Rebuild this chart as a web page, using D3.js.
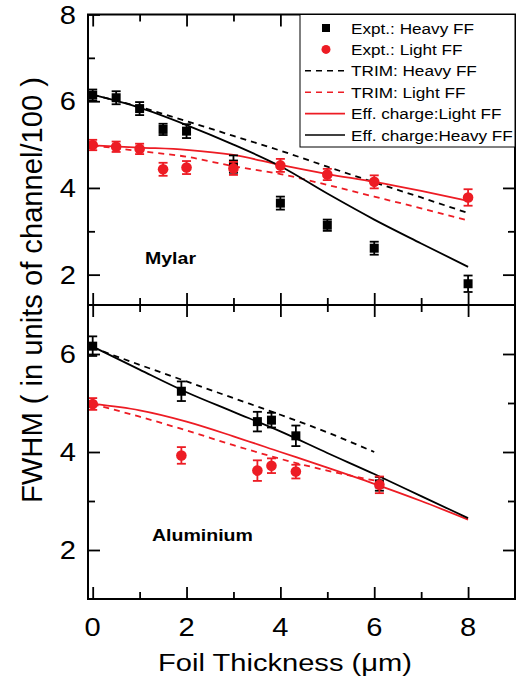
<!DOCTYPE html>
<html>
<head>
<meta charset="utf-8">
<script src="https://cdn.jsdelivr.net/npm/d3@7"></script>
<style>
  body { margin: 0; background: #fff; }
  svg { display: block; font-family: "Liberation Sans", Arial, sans-serif; }
</style>
</head>
<body>
<svg id="chart" width="521" height="681"></svg>
<script>
// ---------------- DATA ----------------
// Mylar panel (top)
const thickTop = [0, 0.5, 1, 1.5, 2, 3, 4, 5, 6, 8];
const heavyTop = [6.14, 6.08, 5.83, 5.35, 5.31, 4.55, 3.65, 3.14, 2.61, 1.79];
const heavyTopErr = [0.13, 0.15, 0.15, 0.13, 0.16, 0.2, 0.15, 0.13, 0.15, 0.19];
const lightTop = [4.99, 4.95, 4.9, 4.43, 4.47, 4.45, 4.52, 4.31, 4.14, 3.78];
const lightTopErr = [0.12, 0.12, 0.12, 0.15, 0.15, 0.15, 0.15, 0.13, 0.15, 0.19];

const curveXTop = [0, 1, 2, 3, 4, 5, 6, 7, 8];
const trimHeavyTop = [6.15, 5.87, 5.54, 5.2, 4.86, 4.49, 4.13, 3.78, 3.42];
const trimLightTop = [4.98, 4.85, 4.72, 4.5, 4.32, 4.07, 3.8, 3.53, 3.25];
const effLightTop = [4.98, 4.93, 4.88, 4.76, 4.53, 4.32, 4.14, 3.93, 3.7];
const effHeavyTop = [6.15, 5.85, 5.45, 5.0, 4.5, 3.87, 3.27, 2.72, 2.18];

// Aluminium panel (bottom)
const thickBot = [0, 1.89, 3.51, 3.81, 4.33, 6.11];
const heavyBot = [6.16, 5.24, 4.62, 4.65, 4.33, 3.35];
const heavyBotErr = [0.2, 0.2, 0.2, 0.15, 0.21, 0.14];
const lightBot = [4.98, 3.93, 3.62, 3.72, 3.6, 3.33];
const lightBotErr = [0.12, 0.17, 0.21, 0.15, 0.14, 0.17];

const curveXBotTrim = [0, 1, 2, 3, 4, 5, 6];
const trimHeavyBot = [6.13, 5.78, 5.44, 5.1, 4.76, 4.4, 4.0];
const trimLightBot = [4.98, 4.72, 4.44, 4.14, 3.86, 3.62, 3.42];
const curveXBot = [0, 1, 2, 3, 4, 5, 6, 7, 8];
const effHeavyBot = [6.15, 5.68, 5.22, 4.82, 4.42, 3.98, 3.55, 3.1, 2.65];
const effLightBot = [4.98, 4.85, 4.62, 4.32, 4.0, 3.68, 3.35, 3.0, 2.62];

const xMajor = [0, 2, 4, 6, 8];
const xMinor = [1, 3, 5, 7];
const yTopMajor = [2, 4, 6, 8];
const yTopMinor = [3, 5, 7];
const yBotMajor = [2, 4, 6];
const yBotMinor = [3, 5];

const legendLabels = ["Expt.: Heavy FF", "Expt.: Light FF", "TRIM: Heavy FF", "TRIM: Light FF",
                      "Eff. charge:Light FF", "Eff. charge:Heavy FF"];
const panelNames = ["Mylar", "Aluminium"];
const xTitle = "Foil Thickness (\u03bcm)";
const yTitle = "FWHM ( in units of channel/100 )";

// ---------------- LAYOUT ----------------
const RED = "#ed1c24", BLACK = "#000";
const svg = d3.select("#chart");
const L = 88, R = 515, T = 14.5, M = 305, B = 599;

const x = d3.scaleLinear().domain([-0.1, 9]).range([L, R]);
const yTop = d3.scaleLinear().domain([1.3, 8]).range([M, T]);
const yBot = d3.scaleLinear().domain([1, 7]).range([B, M]);

// text drawn with horizontal stretch; if width given, stretch to match that width
function stretchedText(g, tx, ty, str, opts) {
  const grp = g.append("g");
  const t = grp.append("text").attr("x", 0).attr("y", 0)
    .attr("font-size", opts.size).attr("font-weight", opts.weight || "normal")
    .attr("text-anchor", opts.anchor || "start").attr("fill", "#000").text(str);
  let sx = opts.sx || 1;
  if (opts.width) sx = opts.width / t.node().getComputedTextLength();
  grp.attr("transform", `translate(${tx},${ty})` + (opts.rot ? ` rotate(${opts.rot})` : "") + ` scale(${sx},1)`);
  return t;
}

function panel(yS, yMaj, yMin) {
  const top = yS.range()[1], bot = yS.range()[0];
  const g = svg.append("g");
  const mk = (axisFn, scale, vals, size, pos) => {
    const a = g.append("g").attr("transform", pos)
      .call(axisFn(scale).tickValues(vals).tickSize(size).tickSizeOuter(0).tickFormat(""));
    a.select(".domain").remove();
    a.selectAll(".tick line").attr("stroke", "#000").attr("stroke-width", 1.8);
  };
  mk(d3.axisBottom, x, xMajor, -12, `translate(0,${bot})`);
  mk(d3.axisBottom, x, xMinor, -7, `translate(0,${bot})`);
  mk(d3.axisTop, x, xMajor, -12, `translate(0,${top})`);
  mk(d3.axisTop, x, xMinor, -7, `translate(0,${top})`);
  mk(d3.axisLeft, yS, yMaj, -12, `translate(${L},0)`);
  mk(d3.axisLeft, yS, yMin, -7, `translate(${L},0)`);
  mk(d3.axisRight, yS, yMaj, -12, `translate(${R},0)`);
  mk(d3.axisRight, yS, yMin, -7, `translate(${R},0)`);
  yMaj.forEach(v => stretchedText(g, 76, yS(v) + 9, String(v), {size: 26, anchor: "end", sx: 1.12}));
  return g;
}

panel(yTop, yTopMajor, yTopMinor);
panel(yBot, yBotMajor, yBotMinor);

xMajor.forEach(v => stretchedText(svg, x(v), 636, String(v), {size: 26, anchor: "middle", sx: 1.12}));

// ---------------- SERIES ----------------
function drawLine(xs, ys, yS, color, dashed) {
  const line = d3.line().x(d => x(d[0])).y(d => yS(d[1])).curve(d3.curveMonotoneX);
  svg.append("path").datum(xs.map((v, i) => [v, ys[i]]))
    .attr("d", line).attr("fill", "none").attr("stroke", color)
    .attr("stroke-width", 1.8).attr("stroke-dasharray", dashed ? "6,5" : null);
}

function drawPoints(xs, ys, errs, yS, color, shape) {
  const g = svg.append("g");
  xs.forEach((xv, i) => {
    const cx = x(xv), cy = yS(ys[i]);
    const y1 = yS(ys[i] + errs[i]), y2 = yS(ys[i] - errs[i]);
    g.append("line").attr("x1", cx).attr("x2", cx).attr("y1", y1).attr("y2", y2)
      .attr("stroke", color).attr("stroke-width", 1.8);
    [y1, y2].forEach(yy => g.append("line").attr("x1", cx - 4.5).attr("x2", cx + 4.5)
      .attr("y1", yy).attr("y2", yy).attr("stroke", color).attr("stroke-width", 1.8));
    if (shape === "square") {
      g.append("rect").attr("x", cx - 4.5).attr("y", cy - 4.5).attr("width", 9).attr("height", 9).attr("fill", color);
    } else {
      g.append("circle").attr("cx", cx).attr("cy", cy).attr("r", 5.3).attr("fill", color);
    }
  });
}

drawLine(curveXTop, trimHeavyTop, yTop, BLACK, true);
drawLine(curveXTop, trimLightTop, yTop, RED, true);
drawLine(curveXTop, effLightTop, yTop, RED, false);
drawLine(curveXTop, effHeavyTop, yTop, BLACK, false);
drawPoints(thickTop, heavyTop, heavyTopErr, yTop, BLACK, "square");
drawPoints(thickTop, lightTop, lightTopErr, yTop, RED, "circle");

drawLine(curveXBotTrim, trimHeavyBot, yBot, BLACK, true);
drawLine(curveXBotTrim, trimLightBot, yBot, RED, true);
drawLine(curveXBot, effLightBot, yBot, RED, false);
drawLine(curveXBot, effHeavyBot, yBot, BLACK, false);
drawPoints(thickBot, heavyBot, heavyBotErr, yBot, BLACK, "square");
drawPoints(thickBot, lightBot, lightBotErr, yBot, RED, "circle");

svg.append("rect").attr("x", L).attr("y", T).attr("width", R - L).attr("height", B - T)
  .attr("fill", "none").attr("stroke", "#000").attr("stroke-width", 2);
svg.append("line").attr("x1", L).attr("x2", R).attr("y1", M).attr("y2", M)
  .attr("stroke", "#000").attr("stroke-width", 2);

stretchedText(svg, 145, 264, panelNames[0], {size: 17, weight: "bold", width: 51});
stretchedText(svg, 152, 541, panelNames[1], {size: 17, weight: "bold", width: 101});

// ---------------- LEGEND ----------------
const lg = svg.append("g");
lg.append("rect").attr("x", 300).attr("y", T).attr("width", R - 300).attr("height", 147 - T)
  .attr("fill", "#fff").attr("stroke", "#000").attr("stroke-width", 1);
const legendStyle = [
  {color: BLACK, type: "square"}, {color: RED, type: "circle"},
  {color: BLACK, type: "dash"}, {color: RED, type: "dash"},
  {color: RED, type: "solid"}, {color: BLACK, type: "solid"}
];
// common stretch factor: longest entry spans 351 -> 513 in the original
const probe = lg.append("text").attr("font-size", 15).text(legendLabels[5]);
const legSX = 162 / probe.node().getComputedTextLength();
probe.remove();
legendLabels.forEach((lab, i) => {
  const cy = 28 + i * 21.4;
  const s = legendStyle[i];
  if (s.type === "square") lg.append("rect").attr("x", 322).attr("y", cy - 4).attr("width", 8).attr("height", 8).attr("fill", s.color);
  else if (s.type === "circle") lg.append("circle").attr("cx", 326).attr("cy", cy).attr("r", 4.5).attr("fill", s.color);
  else lg.append("line").attr("x1", 305).attr("x2", 345).attr("y1", cy).attr("y2", cy)
    .attr("stroke", s.color).attr("stroke-width", 1.6).attr("stroke-dasharray", s.type === "dash" ? "6,5" : null);
  stretchedText(lg, 351, cy + 5.5, lab, {size: 15, sx: legSX});
});

// ---------------- AXIS TITLES ----------------
stretchedText(svg, 285, 671, xTitle, {size: 24, anchor: "middle", width: 254});
stretchedText(svg, 42, 290, yTitle, {size: 29, anchor: "middle", rot: -90, width: 426});
</script>
</body>
</html>
